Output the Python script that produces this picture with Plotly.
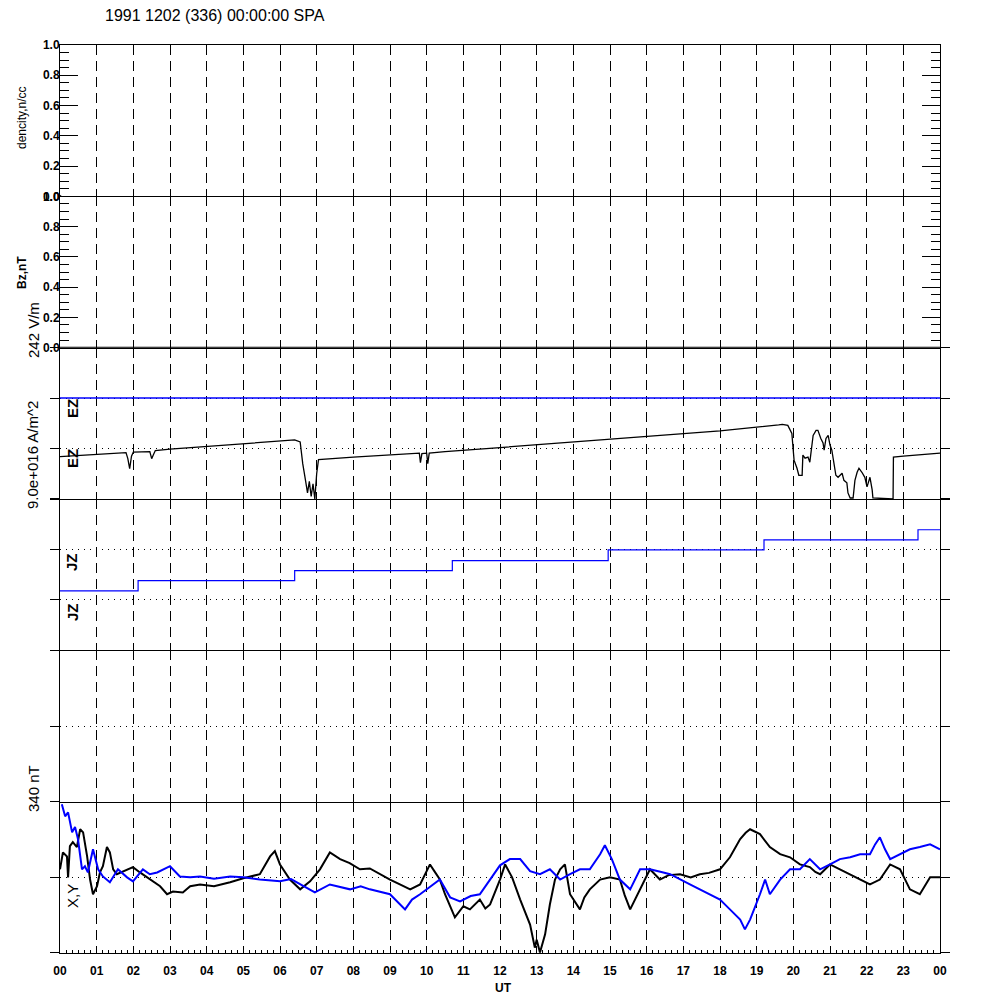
import plotly.graph_objects as go
from plotly.subplots import make_subplots

# hour axis labels
hour_ticks = list(range(25))
hour_labels = [f"{h % 24:02d}" for h in hour_ticks]

# density / Bz panels (no data, only the start sample)
dens_t = [0.0]
dens_v = [0.0]
bz_t = [0.0, 24.0]
bz_v = [0.0, 0.0]

# EZ trace (panel units 0..3)
ez_t = [0.0, 0.5, 1.0, 1.8, 1.85, 1.9, 1.95, 2.0, 2.45, 2.5, 2.55, 2.6, 3.0, 4.0, 5.0,
        6.0, 6.4, 6.55, 6.62, 6.7, 6.75, 6.8, 6.85, 6.9, 6.95, 7.0, 7.05, 8.0, 9.0,
        9.8, 9.83, 9.87, 10.0, 10.03, 10.07, 10.5, 12.0, 14.0, 16.0, 18.0, 19.6, 19.7,
        19.85, 19.96, 19.99, 20.02, 20.1, 20.15, 20.24, 20.26, 20.32, 20.4, 20.45,
        20.51, 20.54, 20.62, 20.67, 20.75, 20.81, 20.84, 20.89, 20.95, 21.0, 21.05,
        21.11, 21.16, 21.22, 21.33, 21.38, 21.46, 21.49, 21.55, 21.63, 21.68, 21.74,
        21.79, 21.87, 21.95, 22.01, 22.09, 22.15, 22.17, 22.72, 22.73, 23.0, 24.0]
ez_v = [0.84, 0.86, 0.88, 0.92, 0.80, 0.60, 0.85, 0.93, 0.94, 0.80, 0.88, 0.96, 0.99,
        1.04, 1.09, 1.14, 1.17, 1.13, 0.70, 0.35, 0.12, 0.35, 0.05, 0.30, 0.0, 0.50,
        0.78, 0.83, 0.88, 0.91, 0.72, 0.90, 0.91, 0.70, 0.91, 0.94, 1.02, 1.13, 1.24,
        1.35, 1.47, 1.48, 1.46, 1.30, 1.03, 0.77, 0.61, 0.47, 0.47, 0.87, 0.81, 0.83,
        0.73, 1.03, 1.26, 1.36, 1.36, 1.20, 1.11, 0.97, 1.20, 1.26, 1.07, 0.97, 0.71,
        0.47, 0.43, 0.51, 0.37, 0.32, 0.12, 0.02, 0.02, 0.37, 0.53, 0.61, 0.53, 0.43,
        0.24, 0.43, 0.18, 0.02, 0.0, 0.83, 0.85, 0.91]
ez_ref_t = [0.0, 24.0]
ez_ref_v = [2.0, 2.0]

# JZ step trace (panel units 0..3)
jz_t = [0.0, 2.13, 6.4, 10.7, 14.95, 19.2, 23.4, 24.0]
jz_v = [1.18, 1.38, 1.58, 1.78, 1.99, 2.19, 2.39, 2.39]

# X, Y magnetometer components (nT)
x_t = [0.0, 0.08, 0.19, 0.22, 0.27, 0.35, 0.46, 0.55, 0.63, 0.74, 0.82, 0.90, 1.01,
       1.09, 1.17, 1.28, 1.36, 1.45, 1.55, 1.83, 1.99, 2.18, 2.45, 2.73, 2.92, 3.08,
       3.35, 3.55, 3.82, 4.2, 4.64, 5.0, 5.45, 5.73, 5.86, 6.0, 6.27, 6.55, 6.82, 7.09,
       7.36, 7.64, 7.9, 8.18, 8.45, 8.73, 9.0, 9.27, 9.55, 9.82, 10.09, 10.2, 10.36,
       10.5, 10.77, 11.0, 11.18, 11.45, 11.6, 11.73, 12.0, 12.14, 12.33, 12.55, 12.7,
       12.82, 12.95, 13.0, 13.09, 13.15, 13.23, 13.36, 13.5, 13.64, 13.77, 13.91, 14.18,
       14.3, 14.45, 14.73, 15.0, 15.27, 15.4, 15.55, 15.82, 16.09, 16.36, 16.6, 16.91,
       17.2, 17.45, 17.7, 18.0, 18.27, 18.55, 18.7, 18.82, 19.09, 19.36, 19.64, 19.91,
       20.18, 20.45, 20.6, 20.73, 21.0, 21.27, 21.55, 21.82, 22.09, 22.36, 22.64, 22.91,
       23.18, 23.45, 23.73, 24.0]
x_v = [18, 56, 47, 0, 70, 79, 68, 108, 101, 47, -5, -38, -20, 11, 25, 68, 56, 18, 7,
       18, 23, 11, -5, -20, -38, -32, -34, -20, -16, -20, -11, -2, 7, 47, 59, 29, -5,
       -27, -9, 18, 56, 41, 32, 18, 20, 7, -5, -16, -27, -16, 29, 15, -5, -38, -90,
       -65, -72, -50, -70, -61, -5, 29, 0, -50, -80, -106, -158, -140, -169, -150,
       -128, -61, -5, 18, 29, -38, -72, -45, -27, -5, 0, -5, -40, -72, -27, 18, -5, 5,
       7, 0, 7, 10, 18, 45, 86, 100, 108, 97, 68, 52, 45, 29, 23, 12, 7, 29, 18, 7,
       -5, -16, -5, 29, 18, -27, -38, 0, 0]
y_t = [0.05, 0.14, 0.22, 0.33, 0.41, 0.49, 0.6, 0.68, 0.76, 0.9, 1.04, 1.17, 1.36,
       1.58, 1.83, 1.99, 2.26, 2.45, 2.65, 3.0, 3.27, 3.55, 3.82, 4.2, 4.64, 5.0, 5.45,
       6.0, 6.3, 6.55, 6.95, 7.36, 7.91, 8.2, 8.45, 9.0, 9.41, 9.6, 9.82, 10.36, 10.64,
       10.91, 11.2, 11.45, 11.73, 12.0, 12.27, 12.55, 12.82, 13.09, 13.36, 13.64,
       13.91, 14.18, 14.45, 14.73, 14.86, 15.05, 15.27, 15.55, 15.82, 16.09, 16.4,
       16.64, 17.18, 17.45, 17.73, 18.0, 18.27, 18.55, 18.68, 18.82, 19.09, 19.23,
       19.36, 19.64, 19.91, 20.18, 20.45, 20.73, 21.0, 21.27, 21.55, 21.82, 22.09,
       22.23, 22.36, 22.5, 22.64, 22.91, 23.18, 23.45, 23.73, 24.0]
y_v = [164, 137, 146, 101, 113, 86, 18, 25, 11, 63, 18, 2, -11, 18, 0, -9, 18, 7, 11,
       25, 2, 0, 2, -3, 2, 0, -5, -9, -4, -16, -34, -16, -27, -20, -27, -38, -72, -50,
       -38, -5, -45, -54, -42, -38, -5, 27, 41, 41, 14, 7, 18, -5, 7, 18, 18, 52, 72,
       41, -5, -27, 18, 18, 12, 7, -16, -27, -38, -50, -72, -95, -117, -95, -38, -5,
       -38, -5, 18, 18, 41, 18, 29, 41, 45, 52, 52, 74, 90, 63, 41, 52, 63, 68, 74, 63]

BLACK = "#000000"
BLUE = "#0000ff"
FONT = "Liberation Sans"

fig = make_subplots(rows=6, cols=1, shared_xaxes=True, vertical_spacing=0)

fig.add_trace(go.Scatter(x=dens_t, y=dens_v, mode="markers",
                         marker=dict(color=BLACK, size=4, symbol="triangle-right")), row=1, col=1)
fig.add_trace(go.Scatter(x=bz_t, y=bz_v, mode="lines", line=dict(color=BLACK, width=2)),
              row=2, col=1)
fig.add_trace(go.Scatter(x=ez_ref_t, y=ez_ref_v, mode="lines", line=dict(color=BLUE, width=1.5)),
              row=3, col=1)
fig.add_trace(go.Scatter(x=ez_t, y=ez_v, mode="lines", line=dict(color=BLACK, width=1.3)),
              row=3, col=1)
fig.add_trace(go.Scatter(x=jz_t, y=jz_v, mode="lines", line=dict(color=BLUE, width=1.2, shape="hv")),
              row=4, col=1)
fig.add_trace(go.Scatter(x=[None], y=[None], mode="lines"), row=5, col=1)
fig.add_trace(go.Scatter(x=x_t, y=x_v, mode="lines", line=dict(color=BLACK, width=2)),
              row=6, col=1)
fig.add_trace(go.Scatter(x=y_t, y=y_v, mode="lines", line=dict(color=BLUE, width=2)),
              row=6, col=1)

# shared time axis: dashed hour grid in every panel, one line per panel bottom
for r in range(1, 7):
    fig.update_xaxes(
        range=[0, 24], tickvals=hour_ticks, ticktext=hour_labels,
        showgrid=True, gridcolor=BLACK, gridwidth=1, griddash="10px,6px",
        showline=True, linecolor=BLACK, linewidth=1, mirror=(r == 1),
        zeroline=False, ticks="", automargin=False, row=r, col=1,
    )
fig.update_xaxes(
    ticks="inside", ticklen=4, tickcolor=BLACK,
    minor=dict(dtick=1 / 6, tick0=0, ticks="inside", ticklen=3, tickcolor=BLACK, showgrid=False),
    showticklabels=True, tickfont=dict(family=FONT, size=12, color=BLACK, weight="bold"),
    ticklabelstandoff=7, row=6, col=1,
)

# density and Bz panels
for r in (1, 2):
    fig.update_yaxes(
        range=[0, 1.0], tickvals=[0, 0.2, 0.4, 0.6, 0.8, 1.0],
        ticktext=["0.0", "0.2", "0.4", "0.6", "0.8", "1.0"],
        ticks="inside", ticklen=18, tickcolor=BLACK, tickwidth=1,
        minor=dict(dtick=0.05, ticks="inside", ticklen=9, tickcolor=BLACK, showgrid=False),
        showline=True, linecolor=BLACK, linewidth=1, mirror="ticks",
        showgrid=False, zeroline=False, automargin=False,
        tickfont=dict(family=FONT, size=12, color=BLACK, weight="bold"),
        ticklabelstandoff=-3, row=r, col=1,
    )

# stacked trace panels with dotted reference levels
stack = {3: ([0, 3], [0, 1, 2, 3]), 4: ([0, 3], [0, 1, 2, 3]),
         5: ([0, 2], [0, 1, 2]), 6: ([-170, 170], [-170, 0, 170])}
for r, (rng, tv) in stack.items():
    fig.update_yaxes(
        range=rng, tickvals=tv, showticklabels=False,
        ticks="outside", ticklen=9, tickcolor=BLACK, tickwidth=1,
        showline=True, linecolor=BLACK, linewidth=1, mirror="ticks",
        showgrid=True, gridcolor=BLACK, gridwidth=1, griddash="1px,5px",
        zeroline=False, automargin=False, row=r, col=1,
    )


def px_x(px):
    return (px - 60) / 880


def px_y(py):
    return (953 - py) / 908


notes = [
    ("1991 1202 (336) 00:00:00 SPA", 103, 15, 16, 0, "left", "normal"),
    ("dencity,n/cc", 22, 118, 12, -90, "center", "normal"),
    ("Bz,nT", 22, 273, 12, -90, "center", "bold"),
    ("242 V/m", 33, 330, 15, -90, "center", "normal"),
    ("9.0e+016 A/m^2", 33, 455, 15, -90, "center", "normal"),
    ("340 nT", 33, 789, 15, -90, "center", "normal"),
    ("EZ", 72, 409, 15, -90, "center", "bold"),
    ("EZ", 72, 459, 15, -90, "center", "bold"),
    ("JZ", 72, 562, 15, -90, "center", "bold"),
    ("JZ", 72, 612, 15, -90, "center", "bold"),
    ("X,Y", 72, 896, 15, -90, "center", "normal"),
    ("UT", 503, 988, 12, 0, "center", "bold"),
]
for text, px, py, size, ang, anchor, weight in notes:
    fig.add_annotation(
        text=text, xref="paper", yref="paper", x=px_x(px), y=px_y(py),
        xanchor=anchor, yanchor="middle", textangle=ang, showarrow=False,
        font=dict(family=FONT, size=size, color=BLACK, weight=weight),
    )

# page body adds an 8px offset, so the figure is sized to fit the window
fig.update_layout(
    width=992, height=992,
    margin=dict(l=52, r=60, t=37, b=47, autoexpand=False),
    paper_bgcolor="white", plot_bgcolor="white",
    showlegend=False,
    font=dict(family=FONT, color=BLACK),
)

fig.write_html("out.html")
